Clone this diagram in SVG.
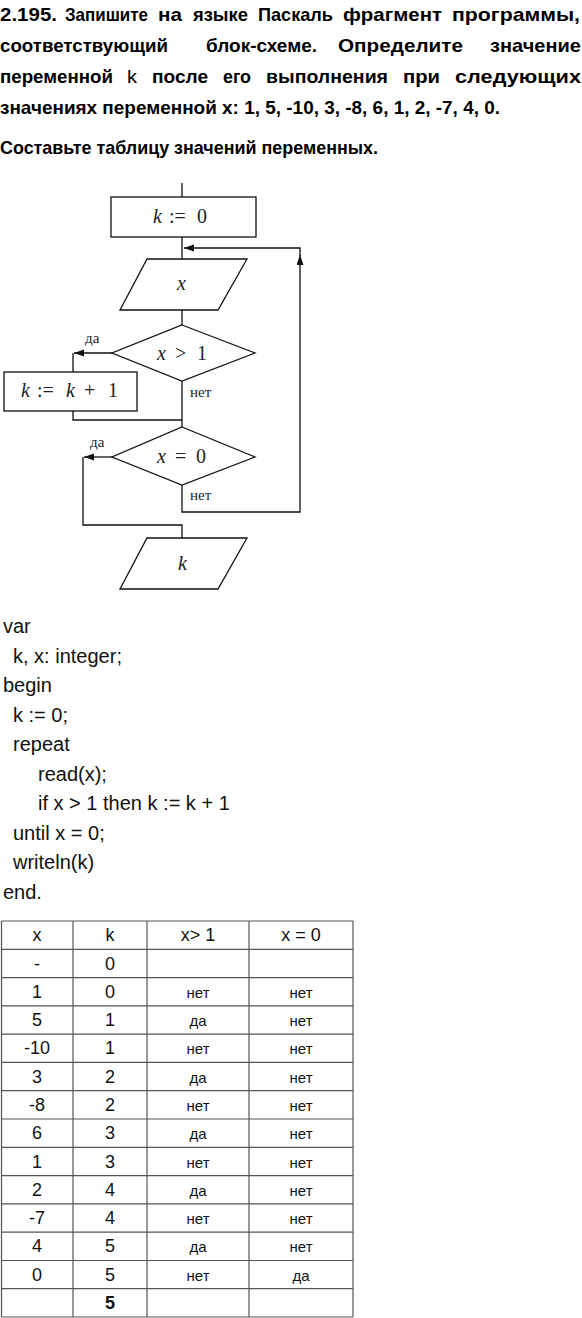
<svg xmlns="http://www.w3.org/2000/svg" width="582" height="1318" viewBox="0 0 582 1318">
<style>
.h{font-family:"Liberation Sans",Arial,sans-serif;font-weight:bold;font-size:18.5px;fill:#000}
.hn{font-weight:normal}
.m{font-family:"Liberation Serif","Times New Roman",serif;font-size:20px;fill:#222}
.mi{font-style:italic}
.lb{font-family:"Liberation Serif","Times New Roman",serif;font-size:15px;fill:#222}
.shape{fill:#fff;stroke:#111;stroke-width:1.3}
.ln{fill:none;stroke:#111;stroke-width:1.3}
.code{font-family:"Liberation Sans",Arial,sans-serif;font-size:20px;fill:#111}
.tl{stroke:#555;stroke-width:1.2}
.td{font-family:"Liberation Sans",Arial,sans-serif;font-size:18px;fill:#111;text-anchor:middle}
.tw{font-family:"Liberation Sans",Arial,sans-serif;font-size:15px;fill:#111;text-anchor:middle}
</style>
<defs>
<marker id="arr" markerUnits="userSpaceOnUse" markerWidth="11" markerHeight="8" refX="10" refY="3.5" orient="auto">
<path d="M0,0 L10,3.5 L0,7 z" fill="#111"/>
</marker>
</defs>
<rect width="582" height="1318" fill="#fff"/>

<g id="task-text">
<text class="h" y="21" x="0" textLength="57" lengthAdjust="spacingAndGlyphs">2.195.</text>
<text class="h" y="21" x="65" textLength="83" lengthAdjust="spacingAndGlyphs">Запишите</text>
<text class="h" y="21" x="158" textLength="24" lengthAdjust="spacingAndGlyphs">на</text>
<text class="h" y="21" x="193" textLength="55" lengthAdjust="spacingAndGlyphs">языке</text>
<text class="h" y="21" x="258" textLength="75" lengthAdjust="spacingAndGlyphs">Паскаль</text>
<text class="h" y="21" x="343" textLength="99" lengthAdjust="spacingAndGlyphs">фрагмент</text>
<text class="h" y="21" x="452" textLength="128" lengthAdjust="spacingAndGlyphs">программы,</text>
<text class="h" y="52" x="0" textLength="168" lengthAdjust="spacingAndGlyphs">соответствующий</text>
<text class="h" y="52" x="206" textLength="111" lengthAdjust="spacingAndGlyphs">блок-схеме.</text>
<text class="h" y="52" x="338" textLength="125" lengthAdjust="spacingAndGlyphs">Определите</text>
<text class="h" y="52" x="490" textLength="91" lengthAdjust="spacingAndGlyphs">значение</text>
<text class="h" y="83" x="0" textLength="113" lengthAdjust="spacingAndGlyphs">переменной</text>
<text class="h hn" y="83" x="127" textLength="10" lengthAdjust="spacingAndGlyphs">k</text>
<text class="h" y="83" x="152" textLength="56" lengthAdjust="spacingAndGlyphs">после</text>
<text class="h" y="83" x="223" textLength="28" lengthAdjust="spacingAndGlyphs">его</text>
<text class="h" y="83" x="266" textLength="122" lengthAdjust="spacingAndGlyphs">выполнения</text>
<text class="h" y="83" x="403" textLength="37" lengthAdjust="spacingAndGlyphs">при</text>
<text class="h" y="83" x="455" textLength="126" lengthAdjust="spacingAndGlyphs">следующих</text>
<text class="h" x="0" y="114" textLength="500" lengthAdjust="spacingAndGlyphs">значениях переменной x: 1, 5, -10, 3, -8, 6, 1, 2, -7, 4, 0.</text>
<text class="h" x="0" y="154" textLength="378" lengthAdjust="spacingAndGlyphs">Составьте таблицу значений переменных.</text>
</g>

<g id="connectors">
<path class="ln" d="M182,183 V197"/>
<path class="ln" d="M182,237 V259"/>
<path class="ln" d="M182,310 V325"/>
<path class="ln" d="M112,353 H74" marker-end="url(#arr)"/>
<path class="ln" d="M73,353 V372"/>
<path class="ln" d="M73,411 V420 H182"/>
<path class="ln" d="M182,381 V427"/>
<path class="ln" d="M112,457 H84" marker-end="url(#arr)"/>
<path class="ln" d="M83,457 V525 H182 V538"/>
<path class="ln" d="M182,485 V512 H300 V255" marker-end="url(#arr)"/>
<path class="ln" d="M300,256 V248 H184" marker-end="url(#arr)"/>
<text class="lb" x="85" y="343">да</text>
<text class="lb" x="190" y="397">нет</text>
<text class="lb" x="90" y="447">да</text>
<text class="lb" x="190" y="500">нет</text>
</g>

<g id="init">
<rect class="shape" x="111" y="197" width="145" height="40"/>
<text class="m" y="223"><tspan x="153" class="mi">k</tspan><tspan x="169">:=</tspan><tspan x="197">0</tspan></text>
</g>
<g id="input-x">
<polygon class="shape" points="147,259 247,259 218,310 120,310"/>
<text class="m mi" x="177" y="290">x</text>
</g>
<g id="cond-gt1">
<polygon class="shape" points="182,325 255,353 182,381 112,353"/>
<text class="m" y="360"><tspan x="157" class="mi">x</tspan><tspan x="175">&gt;</tspan><tspan x="197">1</tspan></text>
</g>
<g id="inc">
<rect class="shape" x="4" y="372" width="133" height="39"/>
<text class="m" y="397"><tspan x="21" class="mi">k</tspan><tspan x="37">:=</tspan><tspan x="66" class="mi">k</tspan><tspan x="84">+</tspan><tspan x="108">1</tspan></text>
</g>
<g id="cond-eq0">
<polygon class="shape" points="182,427 255,457 182,485 112,457"/>
<text class="m" y="463"><tspan x="157" class="mi">x</tspan><tspan x="175">=</tspan><tspan x="196">0</tspan></text>
</g>
<g id="output-k">
<polygon class="shape" points="147,538 247,538 218,589 120,589"/>
<text class="m mi" x="178" y="570">k</text>
</g>

<g id="code">
<text class="code" x="3" y="633">var</text>
<text class="code" x="13" y="662.5">k, x: integer;</text>
<text class="code" x="3" y="692">begin</text>
<text class="code" x="13" y="721.5">k := 0;</text>
<text class="code" x="13" y="751">repeat</text>
<text class="code" x="38" y="780.5">read(x);</text>
<text class="code" x="38" y="810">if x &gt; 1 then k := k + 1</text>
<text class="code" x="13" y="839.5">until x = 0;</text>
<text class="code" x="13" y="869">writeln(k)</text>
<text class="code" x="3" y="898.5">end.</text>
</g>

<g id="table">
<g class="tl">
<line x1="1.5" y1="921" x2="353" y2="921"/>
<line x1="1.5" y1="949.3" x2="353" y2="949.3"/>
<line x1="1.5" y1="977.6" x2="353" y2="977.6"/>
<line x1="1.5" y1="1005.9" x2="353" y2="1005.9"/>
<line x1="1.5" y1="1034.2" x2="353" y2="1034.2"/>
<line x1="1.5" y1="1062.4" x2="353" y2="1062.4"/>
<line x1="1.5" y1="1090.7" x2="353" y2="1090.7"/>
<line x1="1.5" y1="1119" x2="353" y2="1119"/>
<line x1="1.5" y1="1147.3" x2="353" y2="1147.3"/>
<line x1="1.5" y1="1175.6" x2="353" y2="1175.6"/>
<line x1="1.5" y1="1203.9" x2="353" y2="1203.9"/>
<line x1="1.5" y1="1232.2" x2="353" y2="1232.2"/>
<line x1="1.5" y1="1260.5" x2="353" y2="1260.5"/>
<line x1="1.5" y1="1288.7" x2="353" y2="1288.7"/>
<line x1="1.5" y1="1317" x2="353" y2="1317"/>
<line x1="1.5" y1="921" x2="1.5" y2="1317"/>
<line x1="73" y1="921" x2="73" y2="1317"/>
<line x1="147" y1="921" x2="147" y2="1317"/>
<line x1="249" y1="921" x2="249" y2="1317"/>
<line x1="353" y1="921" x2="353" y2="1317"/>
</g>
<text class="td" x="37" y="941">x</text><text class="td" x="110" y="941">k</text><text class="td" x="198" y="941">x&gt; 1</text><text class="td" x="301" y="941">x = 0</text>
<text class="td" x="37" y="969.5">-</text><text class="td" x="110" y="969.5">0</text>
<text class="td" x="37" y="997.8">1</text><text class="td" x="110" y="997.8">0</text><text class="tw" x="198" y="997.8">нет</text><text class="tw" x="301" y="997.8">нет</text>
<text class="td" x="37" y="1026.1">5</text><text class="td" x="110" y="1026.1">1</text><text class="tw" x="198" y="1026.1">да</text><text class="tw" x="301" y="1026.1">нет</text>
<text class="td" x="37" y="1054.4">-10</text><text class="td" x="110" y="1054.4">1</text><text class="tw" x="198" y="1054.4">нет</text><text class="tw" x="301" y="1054.4">нет</text>
<text class="td" x="37" y="1082.6">3</text><text class="td" x="110" y="1082.6">2</text><text class="tw" x="198" y="1082.6">да</text><text class="tw" x="301" y="1082.6">нет</text>
<text class="td" x="37" y="1110.9">-8</text><text class="td" x="110" y="1110.9">2</text><text class="tw" x="198" y="1110.9">нет</text><text class="tw" x="301" y="1110.9">нет</text>
<text class="td" x="37" y="1139.2">6</text><text class="td" x="110" y="1139.2">3</text><text class="tw" x="198" y="1139.2">да</text><text class="tw" x="301" y="1139.2">нет</text>
<text class="td" x="37" y="1167.5">1</text><text class="td" x="110" y="1167.5">3</text><text class="tw" x="198" y="1167.5">нет</text><text class="tw" x="301" y="1167.5">нет</text>
<text class="td" x="37" y="1195.8">2</text><text class="td" x="110" y="1195.8">4</text><text class="tw" x="198" y="1195.8">да</text><text class="tw" x="301" y="1195.8">нет</text>
<text class="td" x="37" y="1224.1">-7</text><text class="td" x="110" y="1224.1">4</text><text class="tw" x="198" y="1224.1">нет</text><text class="tw" x="301" y="1224.1">нет</text>
<text class="td" x="37" y="1252.4">4</text><text class="td" x="110" y="1252.4">5</text><text class="tw" x="198" y="1252.4">да</text><text class="tw" x="301" y="1252.4">нет</text>
<text class="td" x="37" y="1280.6">0</text><text class="td" x="110" y="1280.6">5</text><text class="tw" x="198" y="1280.6">нет</text><text class="tw" x="301" y="1280.6">да</text>
<text class="td" x="110" y="1308.9" font-weight="bold">5</text>
</g>
</svg>
